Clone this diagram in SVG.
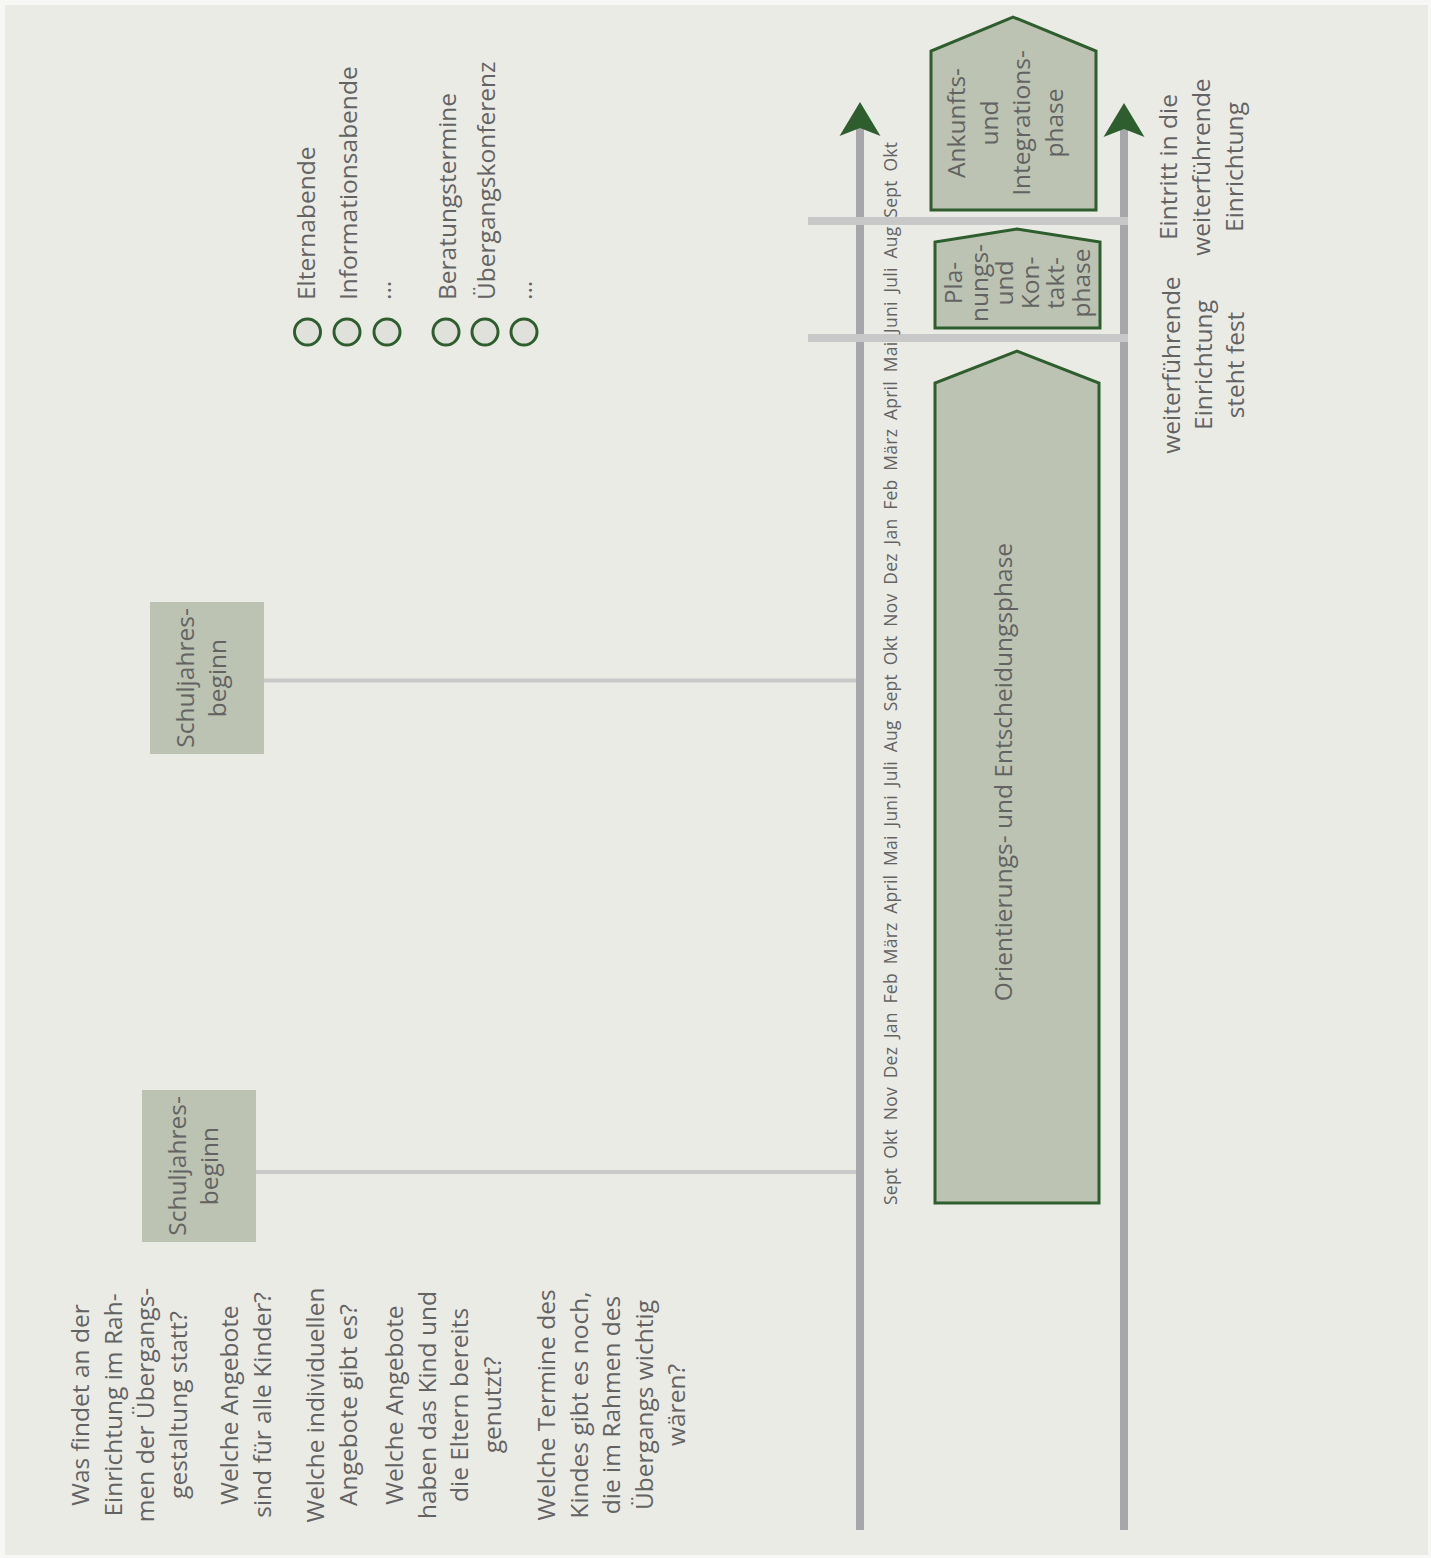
<svg xmlns="http://www.w3.org/2000/svg" width="1431" height="1558" viewBox="0 0 1431 1558">
  <style>
    text { font-family: "Open Sans", "Noto Sans", "DejaVu Sans", sans-serif; fill: #636363; }
    .t { font-size: 24.5px; }
    .m { font-size: 17.5px; word-spacing: 4px; }
    .phase { fill: #bcc3b2; stroke: #2e5e2e; stroke-width: 3; stroke-linejoin: miter; }
    .tag { fill: #bdc3b2; }
    .dot { fill: #e0e1db; stroke: #2e5e2e; stroke-width: 3; }
    .axis { stroke: #a7a7ab; stroke-width: 8; fill: none; }
    .bar { stroke: #c8c8c9; stroke-width: 8; }
    .link { stroke: #c9c9ca; stroke-width: 4; }
  </style>
  <defs>
    <marker id="head" markerUnits="userSpaceOnUse" viewBox="0 -22 36 44" refX="8" refY="0" markerWidth="36" markerHeight="44" orient="auto" overflow="visible">
      <path d="M0,-20.5 L34,0 L0,20.5 L8,0 Z" fill="#2e5e2e"/>
    </marker>
  </defs>

  <!-- page background -->
  <rect x="0" y="0" width="1431" height="1558" fill="#f7f7f5"/>
  <rect x="5" y="5" width="1423" height="1550" fill="#ebebe6"/>

  <!-- connectors: time axes, phase separators, links to the school-year tags -->
  <g id="connectors">
    <line class="axis" x1="860" y1="1530" x2="860" y2="128" marker-end="url(#head)"/>
    <line class="axis" x1="1124" y1="1530" x2="1124" y2="129" marker-end="url(#head)"/>
    <line class="bar" x1="808" y1="221" x2="1128" y2="221"/>
    <line class="bar" x1="808" y1="338" x2="1128" y2="338"/>
    <line class="link" x1="264" y1="680.5" x2="856" y2="680.5"/>
    <line class="link" x1="256" y1="1172" x2="856" y2="1172"/>
  </g>

  <!-- month scale along the first axis, two school years plus two months -->
  <g id="months">
    <text class="m" transform="translate(897 1205) rotate(-90)" textLength="1063" lengthAdjust="spacing">Sept Okt Nov Dez Jan Feb März April Mai Juni Juli Aug Sept Okt Nov Dez Jan Feb März April Mai Juni Juli Aug Sept Okt</text>
  </g>

  <!-- phases -->
  <g id="phase-orientierung">
    <polygon class="phase" points="935,1203 935,383 1017,351 1099,383 1099,1203"/>
    <text class="t" text-anchor="middle" transform="translate(1012 772) rotate(-90)">Orientierungs- und Entscheidungsphase</text>
  </g>
  <g id="phase-planung">
    <polygon class="phase" points="935,328 935,242 1017,229 1100,242 1100,328"/>
    <text class="t" text-anchor="middle" transform="translate(962 283) rotate(-90)">
      <tspan x="0" y="0">Pla-</tspan><tspan x="0" y="25.5">nungs-</tspan><tspan x="0" y="51">und</tspan><tspan x="0" y="76.5">Kon-</tspan><tspan x="0" y="102">takt-</tspan><tspan x="0" y="127.5">phase</tspan>
    </text>
  </g>
  <g id="phase-ankunft">
    <polygon class="phase" points="931,210 931,51 1013,17 1096,51 1096,210"/>
    <text class="t" text-anchor="middle" transform="translate(965 123) rotate(-90)">
      <tspan x="0" y="0">Ankunfts-</tspan><tspan x="0" y="32.5">und</tspan><tspan x="0" y="65">Integrations-</tspan><tspan x="0" y="97.5">phase</tspan>
    </text>
  </g>

  <!-- school-year tags -->
  <g id="schuljahr-1">
    <rect class="tag" x="150" y="602" width="114" height="152"/>
    <text class="t" text-anchor="middle" transform="translate(194 678) rotate(-90)">
      <tspan x="0" y="0">Schuljahres-</tspan><tspan x="0" y="32">beginn</tspan>
    </text>
  </g>
  <g id="schuljahr-2">
    <rect class="tag" x="142" y="1090" width="114" height="152"/>
    <text class="t" text-anchor="middle" transform="translate(186 1166) rotate(-90)">
      <tspan x="0" y="0">Schuljahres-</tspan><tspan x="0" y="32">beginn</tspan>
    </text>
  </g>

  <!-- checklist of events -->
  <g id="checklist">
    <circle class="dot" cx="307.5" cy="332" r="13"/>
    <circle class="dot" cx="347" cy="332" r="13"/>
    <circle class="dot" cx="387" cy="332" r="13"/>
    <circle class="dot" cx="446" cy="332" r="13"/>
    <circle class="dot" cx="485" cy="332" r="13"/>
    <circle class="dot" cx="524" cy="332" r="13"/>
    <text class="t" transform="translate(315 300) rotate(-90)">Elternabende</text>
    <text class="t" transform="translate(357 300) rotate(-90)">Informationsabende</text>
    <text class="t" transform="translate(391 300) rotate(-90)">...</text>
    <text class="t" transform="translate(456 300) rotate(-90)">Beratungstermine</text>
    <text class="t" transform="translate(495 300) rotate(-90)">Übergangskonferenz</text>
    <text class="t" transform="translate(532 300) rotate(-90)">...</text>
  </g>

  <!-- milestones on the second axis -->
  <g id="eintritt">
    <text class="t" text-anchor="middle" transform="translate(1177 167) rotate(-90)">
      <tspan x="0" y="0">Eintritt in die</tspan><tspan x="0" y="33">weiterführende</tspan><tspan x="0" y="66">Einrichtung</tspan>
    </text>
  </g>
  <g id="einrichtung-fest">
    <text class="t" text-anchor="middle" transform="translate(1180 365) rotate(-90)">
      <tspan x="0" y="0">weiterführende</tspan><tspan x="0" y="32">Einrichtung</tspan><tspan x="0" y="64">steht fest</tspan>
    </text>
  </g>

  <!-- guiding questions -->
  <g id="fragen" class="t" text-anchor="middle">
    <text class="t" transform="translate(89 1405) rotate(-90)">
      <tspan x="0" y="0">Was findet an der</tspan><tspan x="0" y="32.5">Einrichtung im Rah-</tspan><tspan x="0" y="65">men der Übergangs-</tspan><tspan x="0" y="97.5">gestaltung statt?</tspan>
    </text>
    <text class="t" transform="translate(238 1405) rotate(-90)">
      <tspan x="0" y="0">Welche Angebote</tspan><tspan x="0" y="33">sind für alle Kinder?</tspan>
    </text>
    <text class="t" transform="translate(324 1405) rotate(-90)">
      <tspan x="0" y="0">Welche individuellen</tspan><tspan x="0" y="32.5">Angebote gibt es?</tspan>
    </text>
    <text class="t" transform="translate(403 1405) rotate(-90)">
      <tspan x="0" y="0">Welche Angebote</tspan><tspan x="0" y="32.5">haben das Kind und</tspan><tspan x="0" y="65">die Eltern bereits</tspan><tspan x="0" y="97.5">genutzt?</tspan>
    </text>
    <text class="t" transform="translate(555 1405) rotate(-90)">
      <tspan x="0" y="0">Welche Termine des</tspan><tspan x="0" y="32.5">Kindes gibt es noch,</tspan><tspan x="0" y="65">die im Rahmen des</tspan><tspan x="0" y="97.5">Übergangs wichtig</tspan><tspan x="0" y="130">wären?</tspan>
    </text>
  </g>
</svg>
